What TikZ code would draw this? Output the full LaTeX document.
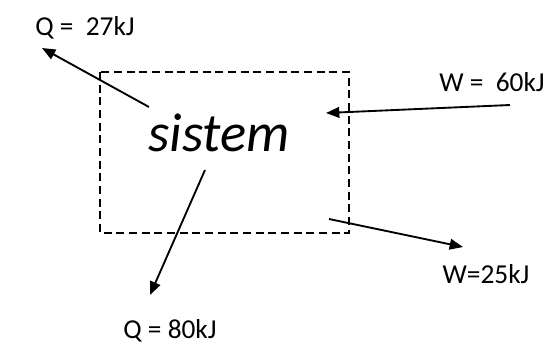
\documentclass[tikz,border=0pt]{standalone}
\usepackage{fontspec}
\setmainfont{Carlito}
\usetikzlibrary{arrows.meta}
\tikzset{
  lbl/.style={font=\fontsize{20.5}{24}\selectfont, inner sep=0pt},
  flow/.style={line width=1.4pt, -{Triangle[length=10pt,width=8pt]}},
  sysbox/.style={draw, line width=1.1pt, dash pattern=on 6pt off 3.5pt}
}
\begin{document}
\begin{tikzpicture}[x=0.75pt,y=-0.75pt]
\useasboundingbox (0,0) rectangle (556,344);
\draw[sysbox] (100,72) rectangle (349,233);
\node[font=\itshape\fontsize{41}{46}\selectfont, inner sep=0pt] (sys) at (219,133) {sistem};
\node[lbl] (q1) at (85,28) {Q =\ \ 27kJ};
\node[lbl] (w1) at (492,82) {W =\ \ 60kJ};
\node[lbl] (w2) at (486,274) {W=25kJ};
\node[lbl] (q2) at (170,331) {Q = 80kJ};
\coordinate (q1s) at (149,107);
\coordinate (q1e) at (42,48);
\coordinate (w1s) at (510,105);
\coordinate (w1e) at (326,113);
\coordinate (w2s) at (329,219);
\coordinate (w2e) at (463,247);
\coordinate (q2s) at (205,170);
\coordinate (q2e) at (150,295);
\draw[flow] (q1s) -- (q1e);
\draw[flow] (w1s) -- (w1e);
\draw[flow] (w2s) -- (w2e);
\draw[flow] (q2s) -- (q2e);
\end{tikzpicture}
\end{document}
